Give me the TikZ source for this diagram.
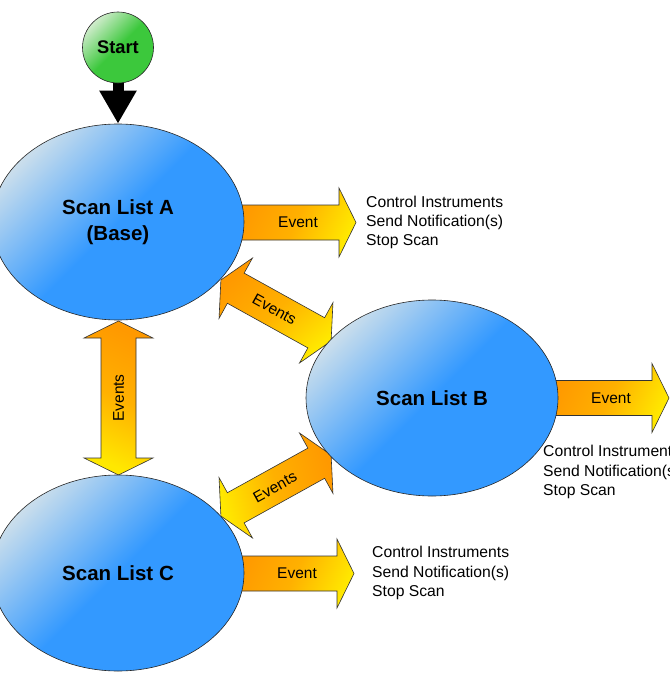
\documentclass[tikz,border=0pt]{standalone}
\usepackage{fontspec}
\setmainfont{Liberation Sans}
\usetikzlibrary{shapes.geometric,arrows.meta,backgrounds}
\definecolor{orangeC}{RGB}{255,153,0}
\definecolor{yellowC}{RGB}{255,232,0}
\definecolor{lightblueC}{RGB}{202,222,236}
\definecolor{blueC}{RGB}{51,153,255}
\definecolor{lightgreenC}{RGB}{208,236,204}
\definecolor{greenC}{RGB}{60,200,60}
\tikzset{
  scanlist/.style={ellipse, draw=black!85, line width=0.6pt,
    minimum width=252pt, minimum height=196pt, inner sep=0pt,
    top color=lightblueC, bottom color=blueC, middle color=blueC, shading angle=45,
    font=\fontsize{20.5}{26}\selectfont\bfseries, align=center},
  startnode/.style={circle, draw=black!85, line width=0.6pt, minimum size=71pt, inner sep=0pt,
    top color=lightgreenC, bottom color=greenC, middle color=greenC, shading angle=45,
    font=\fontsize{18.3}{22}\selectfont\bfseries},
  blockarrow/.style={draw=black!80, line width=0.6pt, line join=miter},
  evtshade/.style={top color=orangeC, bottom color=yellowC, middle color=orangeC!70!yellowC, shading angle=#1},
  evlabel/.style={inner sep=0pt, font=\fontsize{15.5}{19}\selectfont},
  sidetext/.style={anchor=west, inner sep=0pt, align=left, font=\fontsize{15.7}{19.3}\selectfont}
}
\begin{document}
\begin{tikzpicture}[x=1pt,y=-1pt]
\clip (0,0) rectangle (669,677);
% nodes
\node[startnode] (S) at (118,47.5) {Start};
\node[scanlist] (A) at (118,222) {Scan List A\\(Base)};
\node[scanlist] (B) at (432,398) {Scan List B};
\node[scanlist] (C) at (118,573) {Scan List C};
\begin{scope}[on background layer]
  % start connector
  \draw[line width=11pt, -{Triangle[length=33pt,width=35pt]}] (S.center) -- (A.north);
  % event arrows
  \path[blockarrow, evtshade=65] (236,205) -- (339,205) -- (339,188) -- (356,222.5) -- (339,257) -- (339,240) -- (236,240) -- cycle;
  \path[blockarrow, evtshade=65] (550,380.5) -- (652,380.5) -- (652,363.5) -- (669,398) -- (652,432.5) -- (652,415.5) -- (550,415.5) -- cycle;
  \path[blockarrow, evtshade=65] (236,556) -- (337,556) -- (337,539) -- (354,573.5) -- (337,608) -- (337,591) -- (236,591) -- cycle;
  % vertical double arrow A-C
  \path[blockarrow, evtshade=-25] (118.5,321) -- (153,338) -- (136,338) -- (136,458) -- (153,458) -- (118.5,475) -- (84,458) -- (101,458) -- (101,338) -- (84,338) -- cycle;
  % diagonal double arrow A-B
  \path[blockarrow, evtshade=40] (220.9,279.95) -- (252.5,258.0) -- (244.14,273.11) -- (324.6,317.71) -- (332.96,302.61) -- (331.1,341.05) -- (299.5,362.99) -- (307.86,347.89) -- (227.4,303.29) -- (219.04,318.39) -- cycle;
  % diagonal double arrow B-C
  \path[blockarrow, evtshade=-75] (220.9,516.05) -- (252.5,538.0) -- (244.14,522.89) -- (324.6,478.29) -- (332.96,493.39) -- (331.1,454.95) -- (299.5,433.01) -- (307.86,448.11) -- (227.4,492.71) -- (219.04,477.61) -- cycle;
\end{scope}
% labels
\node[evlabel] (eA) at (298,222.5) {Event};
\node[evlabel] (eB) at (611,398) {Event};
\node[evlabel] (eC) at (297,573.5) {Event};
\node[evlabel, rotate=-29] (evAB) at (274.5,309.5) {Events};
\node[evlabel, rotate=29] (evBC) at (275,487) {Events};
\node[evlabel, rotate=90] (evAC) at (118.5,398) {Events};
\node[sidetext] (tA) at (366,222.5) {Control Instruments\\Send Notification(s)\\Stop Scan};
\node[sidetext] (tB) at (543,472) {Control Instruments\\Send Notification(s)\\Stop Scan};
\node[sidetext] (tC) at (372,573) {Control Instruments\\Send Notification(s)\\Stop Scan};
\end{tikzpicture}
\end{document}
